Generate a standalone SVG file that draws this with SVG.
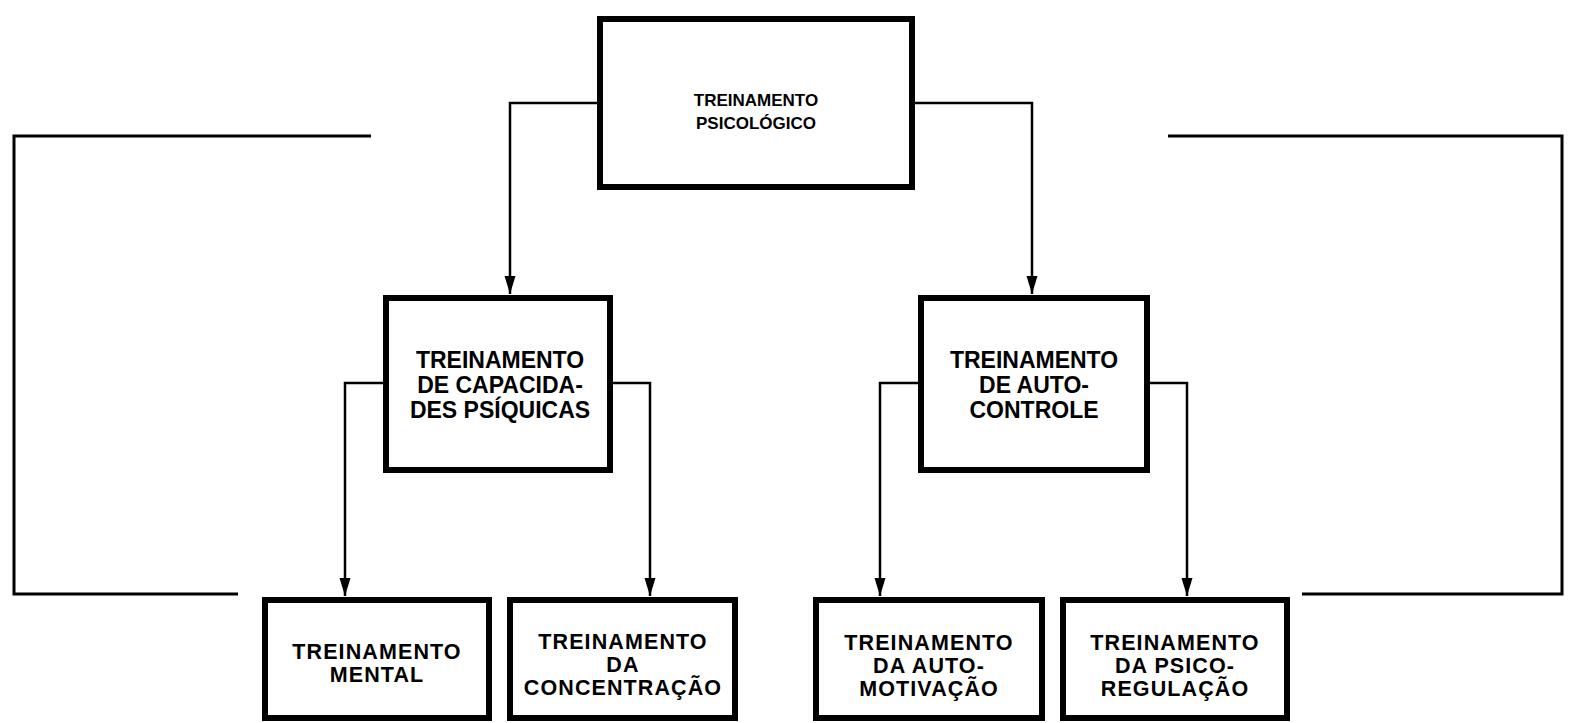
<svg xmlns="http://www.w3.org/2000/svg" width="1569" height="723" viewBox="0 0 1569 723">
<defs>
<style>
.box{fill:#fff;stroke:#000;stroke-width:6}
.ln{fill:none;stroke:#000;stroke-width:2.5}
.br{fill:none;stroke:#000;stroke-width:3}
.t{font-family:"Liberation Sans",Arial,sans-serif;font-weight:bold;font-size:23px;text-anchor:middle;fill:#000}
.ts{font-size:17px}
.tb{font-size:21.5px;letter-spacing:1.1px}
</style>
<marker id="ar" markerUnits="userSpaceOnUse" markerWidth="18" markerHeight="12" refX="18" refY="6" orient="auto" viewBox="0 0 18 12">
<path d="M0,0.5 L18,6 L0,11.5 Z" fill="#000"/>
</marker>
</defs>
<rect width="1569" height="723" fill="#fff"/>
<g id="connectors">
<path class="br" d="M371,136 H14 V594 H238"/>
<path class="br" d="M1168,136 H1562 V594 H1302"/>
<path class="ln" d="M600,103 H510 V294" marker-end="url(#ar)"/>
<path class="ln" d="M912,103 H1032 V294" marker-end="url(#ar)"/>
<path class="ln" d="M386,383 H345 V596" marker-end="url(#ar)"/>
<path class="ln" d="M610,383 H650 V596" marker-end="url(#ar)"/>
<path class="ln" d="M921,383 H880 V596" marker-end="url(#ar)"/>
<path class="ln" d="M1147,383 H1187 V596" marker-end="url(#ar)"/>
</g>
<g id="n-psicologico">
<rect class="box" x="600" y="19" width="312" height="168"/>
<text class="t ts" x="756" y="106">TREINAMENTO</text>
<text class="t ts" x="756" y="129">PSICOLÓGICO</text>
</g>
<g id="n-capacidades">
<rect class="box" x="386" y="298" width="224" height="172"/>
<text class="t" x="500" y="368">TREINAMENTO</text>
<text class="t" x="500" y="393">DE CAPACIDA-</text>
<text class="t" x="500" y="418">DES PSÍQUICAS</text>
</g>
<g id="n-autocontrole">
<rect class="box" x="921" y="298" width="226" height="172"/>
<text class="t" x="1034" y="368">TREINAMENTO</text>
<text class="t" x="1034" y="393">DE AUTO-</text>
<text class="t" x="1034" y="418">CONTROLE</text>
</g>
<g id="n-mental">
<rect class="box" x="265" y="600" width="224" height="118"/>
<text class="t tb" x="377" y="659">TREINAMENTO</text>
<text class="t tb" x="377" y="682">MENTAL</text>
</g>
<g id="n-concentracao">
<rect class="box" x="510" y="600" width="225" height="118"/>
<text class="t tb" x="623" y="649">TREINAMENTO</text>
<text class="t tb" x="623" y="672">DA</text>
<text class="t tb" x="623" y="695">CONCENTRAÇÃO</text>
</g>
<g id="n-automotivacao">
<rect class="box" x="816" y="600" width="226" height="118"/>
<text class="t tb" x="929" y="650">TREINAMENTO</text>
<text class="t tb" x="929" y="673">DA AUTO-</text>
<text class="t tb" x="929" y="696">MOTIVAÇÃO</text>
</g>
<g id="n-psicoregulacao">
<rect class="box" x="1063" y="600" width="224" height="118"/>
<text class="t tb" x="1175" y="650">TREINAMENTO</text>
<text class="t tb" x="1175" y="673">DA PSICO-</text>
<text class="t tb" x="1175" y="696">REGULAÇÃO</text>
</g>
</svg>
